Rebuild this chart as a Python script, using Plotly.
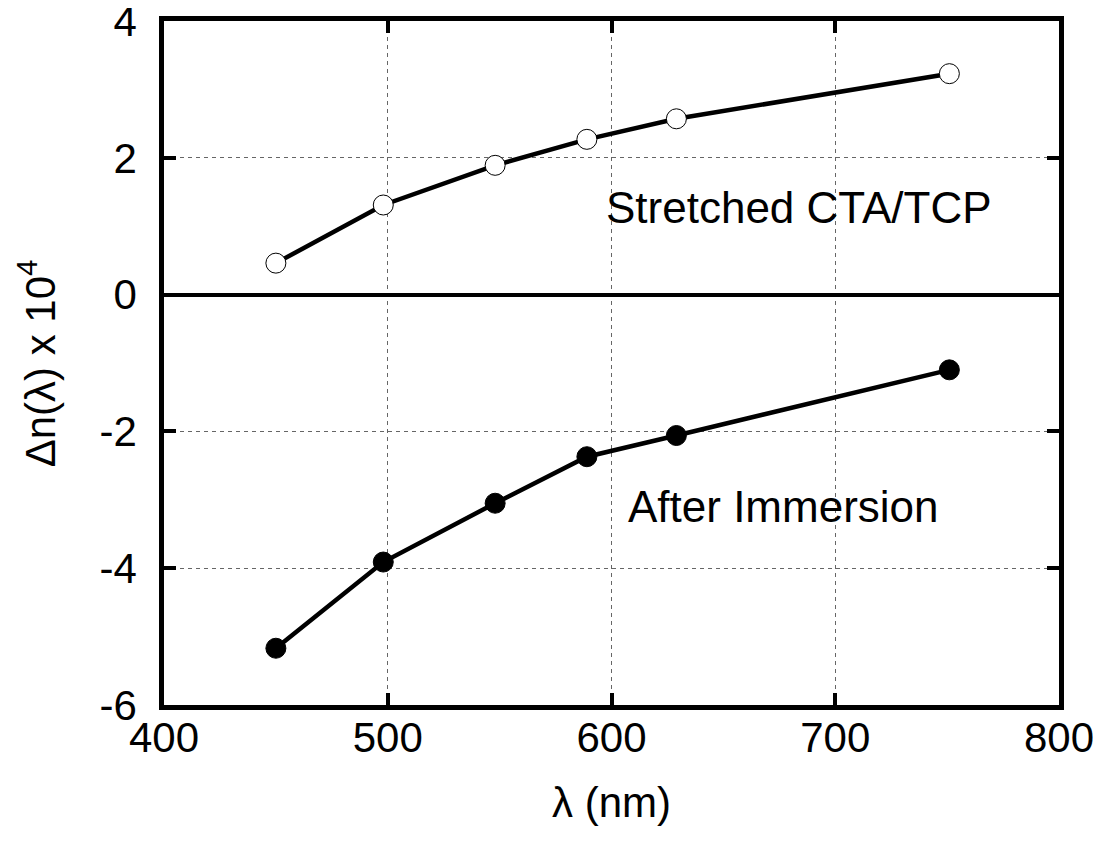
import plotly.graph_objects as go

# Data
wavelength = [450, 498, 548, 589, 629, 751]
stretched = [0.46, 1.31, 1.89, 2.27, 2.57, 3.23]
immersion = [-5.17, -3.91, -3.05, -2.37, -2.06, -1.10]

x_ticks = [400, 500, 600, 700, 800]
x_tick_text = ["400", "500", "600", "700", "800"]
y_ticks = [-6, -4, -2, 0, 2, 4]
y_tick_text = ["-6", "-4", "-2", "0", "2", "4"]

FONT = "Liberation Sans, Arial, Helvetica, sans-serif"
FS = 42
FS_ANN = 44

fig = go.Figure()
fig.add_trace(go.Scatter(
    x=wavelength, y=stretched, mode="lines+markers",
    line=dict(color="black", width=4.5),
    marker=dict(symbol="circle", size=20, color="white",
                line=dict(color="black", width=1)),
    showlegend=False))
fig.add_trace(go.Scatter(
    x=wavelength, y=immersion, mode="lines+markers",
    line=dict(color="black", width=4.5),
    marker=dict(symbol="circle", size=20, color="black",
                line=dict(color="black", width=1)),
    showlegend=False))

axis_common = dict(
    showline=True, linecolor="black", linewidth=4.5, mirror="ticks",
    ticks="inside", ticklen=12, tickwidth=4, tickcolor="black",
    showgrid=True, gridcolor="#666666", gridwidth=1, griddash="4px,4px",
    tickfont=dict(family=FONT, size=FS, color="black"),
    automargin=False, ticklabeloverflow="allow",
)

fig.update_xaxes(range=[400, 800], tickvals=x_ticks, ticktext=x_tick_text,
                 zeroline=False, ticklabelstandoff=-8, **axis_common)
fig.update_yaxes(range=[-6, 4], tickvals=y_ticks, ticktext=y_tick_text,
                 zeroline=True, zerolinecolor="black", zerolinewidth=3.5,
                 ticklabelstandoff=14, **axis_common)

fig.add_annotation(x=684, y=1.27, xref="x", yref="y", text="Stretched CTA/TCP",
                   showarrow=False, font=dict(family=FONT, size=FS_ANN, color="black"),
                   xanchor="center", yanchor="middle")
fig.add_annotation(x=677, y=-3.1, xref="x", yref="y", text="After Immersion",
                   showarrow=False, font=dict(family=FONT, size=FS_ANN, color="black"),
                   xanchor="center", yanchor="middle")

# axis titles
fig.add_annotation(x=0.5, y=-0.143, xref="paper", yref="paper", text="λ (nm)",
                   showarrow=False, font=dict(family=FONT, size=FS, color="black"),
                   xanchor="center", yanchor="middle")
fig.add_annotation(x=-0.1415, y=0.5, xref="paper", yref="paper",
                   text="Δn(λ) x 10<sup>4</sup>", textangle=-90,
                   showarrow=False, font=dict(family=FONT, size=FS, color="black"),
                   xanchor="center", yanchor="middle")

fig.update_layout(
    width=1101, height=842,
    margin=dict(l=156, r=50, t=13, b=145, autoexpand=False),
    paper_bgcolor="white", plot_bgcolor="white",
    font=dict(family=FONT, size=FS, color="black"),
)

fig.write_html("out.html")
